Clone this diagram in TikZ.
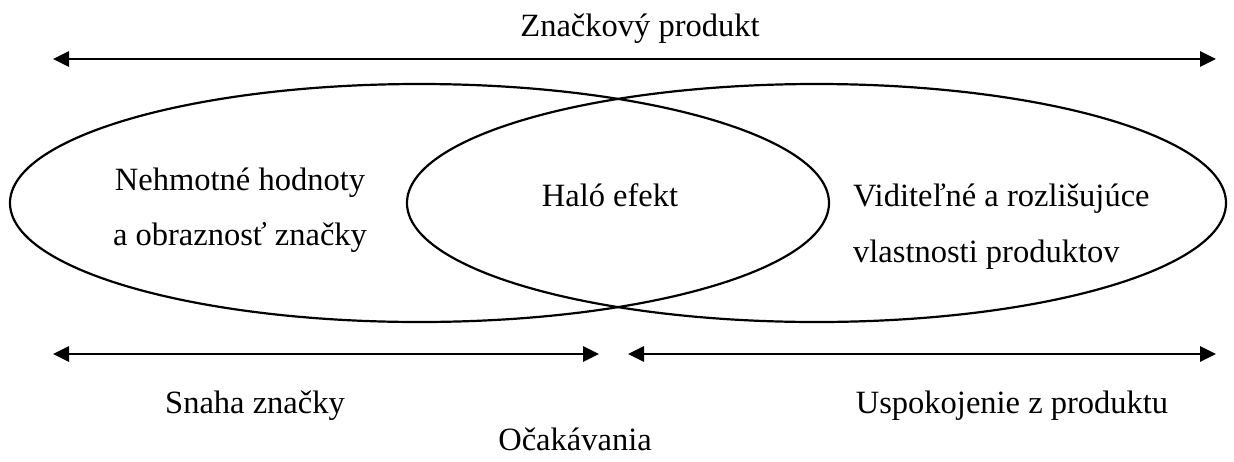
\documentclass[tikz,border=0pt]{standalone}
\usepackage{fontspec}
\setmainfont{Liberation Serif}
\usetikzlibrary{arrows.meta}
\begin{document}
\begin{tikzpicture}[x=1pt,y=-1pt,
  label/.style={font=\fontsize{32.5}{38}\selectfont, inner sep=0pt, anchor=base},
  span/.style={line width=2.8pt, {Triangle[length=16pt,width=15pt]}-{Triangle[length=16pt,width=15pt]}},
  ring/.style={line width=2.2pt}]
  \useasboundingbox (0,0) rectangle (1234,461);

  % overall span of the branded product
  \node[label] (top) at (640,36) {Značkový produkt};
  \coordinate (tl) at (53,59);
  \coordinate (tr) at (1216,59);
  \draw[span] (tl) -- (tr);

  % two overlapping ellipses
  \draw[ring] (419.5,203) ellipse [x radius=409.5, y radius=119];
  \draw[ring] (816.5,203) ellipse [x radius=409.5, y radius=119];

  \node[label] (l1) at (240,190) {Nehmotné hodnoty};
  \node[label] (l2) at (240,245) {a obraznosť značky};
  \node[label] (mid) at (610,206) {Haló efekt};
  \node[label, anchor=base west] (r1) at (853,206) {Viditeľné a rozlišujúce};
  \node[label, anchor=base west] (r2) at (853,262) {vlastnosti produktov};

  % lower spans
  \coordinate (bl1) at (53,354);
  \coordinate (bl2) at (599,354);
  \coordinate (br1) at (628,354);
  \coordinate (br2) at (1216,354);
  \draw[span] (bl1) -- (bl2);
  \draw[span] (br1) -- (br2);

  \node[label] (sl) at (255,413) {Snaha značky};
  \node[label] (sr) at (1012,413) {Uspokojenie z produktu};
  \node[label] (exp) at (575,450) {Očakávania};
\end{tikzpicture}
\end{document}
